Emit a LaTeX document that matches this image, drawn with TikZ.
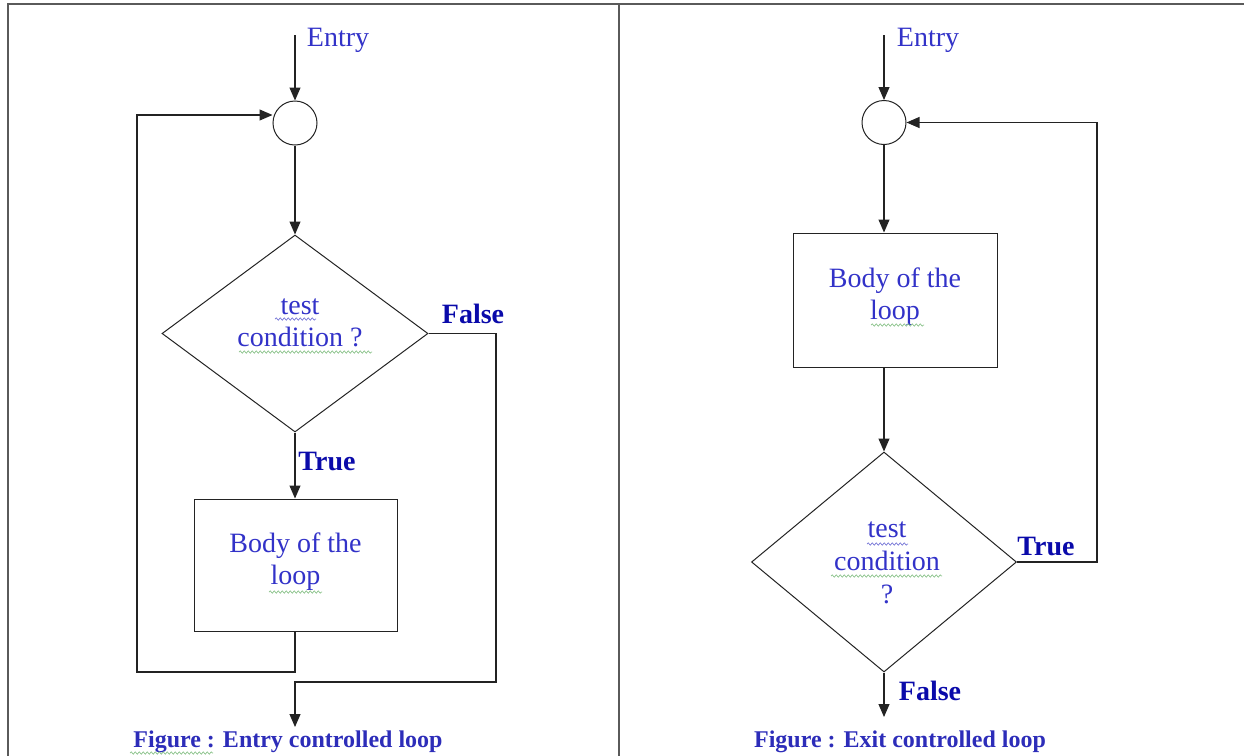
\documentclass[tikz,border=0pt]{standalone}
\usepackage{fontspec}
\setmainfont{Liberation Serif}
\usetikzlibrary{shapes.geometric,arrows.meta,decorations.pathmorphing}
\definecolor{txtblue}{RGB}{50,50,200}
\definecolor{lblblue}{RGB}{10,10,170}
\definecolor{capblue}{RGB}{45,45,185}
\definecolor{linegray}{RGB}{35,35,35}
\definecolor{framegray}{RGB}{90,90,90}
\definecolor{sqblue}{RGB}{120,120,215}
\definecolor{sqgreen}{RGB}{140,195,140}
\begin{document}
\begin{tikzpicture}[x=0.5pt,y=-0.5pt,
 flow/.style={draw=linegray,line width=0.55pt,-{Triangle[length=6.5pt,width=5.5pt]}},
 junction/.style={circle,draw=linegray,line width=0.5pt,minimum size=22pt,inner sep=0pt},
 decide/.style={diamond,draw=linegray,line width=0.5pt,inner sep=0pt},
 bodybox/.style={rectangle,draw=linegray,line width=0.5pt,inner sep=0pt},
 txt/.style={text=txtblue,font=\fontsize{14}{16}\selectfont,align=center,inner sep=0pt},
 lbl/.style={text=lblblue,font=\fontsize{14}{16}\selectfont\bfseries,inner sep=0pt},
 captxt/.style={text=capblue,font=\fontsize{12}{14}\selectfont\bfseries,inner sep=0pt},
 squig/.style={decorate,decoration={snake,amplitude=0.6pt,segment length=2pt},line width=0.35pt},
 framelines/.style={draw=framegray,line width=0.9pt}
]
\useasboundingbox (0,0) rectangle (1244,756);
% frame
\draw[framelines] (8,756) -- (8,4) -- (1244,4);
\draw[framelines] (619,4) -- (619,756);

% ---------- left: entry controlled loop ----------
\coordinate (e1) at (295,35);
\node[txt] (entry1) at (338,40) {Entry};
\node[junction] (c1) at (295,123) {};
\node[decide,minimum width=133pt,minimum height=98.5pt] (d1) at (295,333.5) {};
\node[txt] (d1t) at (300,323) {test\\condition ?};
\node[bodybox,minimum width=101.5pt,minimum height=66pt] (b1) at (295.5,565) {};
\node[txt] (b1t) at (295.5,562) {Body of the\\loop};
\node[lbl] (false1) at (473,314) {False};
\node[lbl] (true1) at (327,461) {True};
\node[captxt] (cap1) at (288,742) {Figure : Entry controlled loop};
\coordinate (lb1) at (137,672);
\coordinate (lt1) at (137,115);
\coordinate (fr1) at (496,682);
\coordinate (out1) at (295,727);

\draw[flow] (e1) -- (c1.north);
\draw[flow] (c1.south) -- (d1.north);
\draw[flow] (d1.south) -- (b1.north -| d1.south);
\draw[flow] (b1.south -| d1.south) |- (lb1) -- (lt1) -- (lt1 -| c1.west);
\draw[flow] (d1.east) -| (fr1) -| (out1);

% spell-check squiggles
\draw[squig,sqblue] (275,319) -- (316,319);
\draw[squig,sqgreen] (239,352) -- (372,352);
\draw[squig,sqgreen] (269,592) -- (322,592);
\draw[squig,sqgreen] (130,753) -- (213,753);

% ---------- right: exit controlled loop ----------
\coordinate (e2) at (884,35);
\node[txt] (entry2) at (928,40) {Entry};
\node[junction] (c2) at (884,122.5) {};
\node[bodybox,minimum width=102pt,minimum height=67pt] (b2) at (895,300) {};
\node[txt] (b2t) at (895,297) {Body of the\\loop};
\node[decide,minimum width=132.5pt,minimum height=110pt] (d2) at (884,562) {};
\node[txt,font=\fontsize{14}{16.5}\selectfont] (d2t) at (887,563) {test\\condition\\?};
\node[lbl] (true2) at (1046,546) {True};
\node[lbl] (false2) at (930,691) {False};
\node[captxt] (cap2) at (900,742) {Figure : Exit controlled loop};
\coordinate (tr2) at (1097,122.5);
\coordinate (out2) at (884,717);

\draw[flow] (e2) -- (c2.north);
\draw[flow] (c2.south) -- (c2.south |- b2.north);
\draw[flow] (c2.south |- b2.south) -- (d2.north);
\draw[flow] (d2.east) -| (tr2) -- (c2.east);
\draw[flow] (d2.south) -- (out2);

\draw[squig,sqgreen] (871,325) -- (924,325);
\draw[squig,sqblue] (867,544) -- (908,544);
\draw[squig,sqgreen] (831,576) -- (942,576);
\end{tikzpicture}
\end{document}
